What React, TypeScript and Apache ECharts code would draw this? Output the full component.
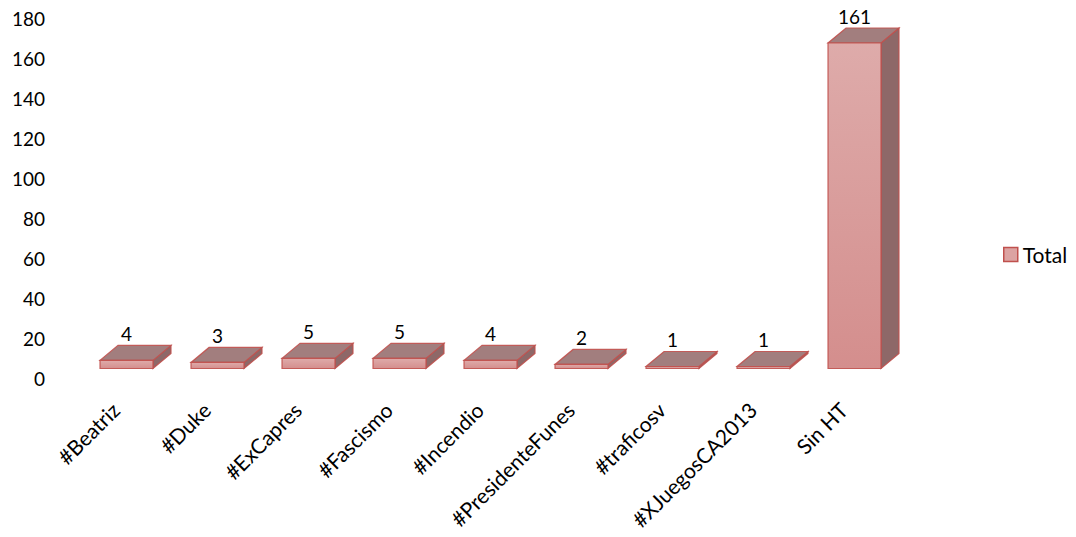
import React, { useEffect, useRef } from "react";
import * as echarts from "echarts";

const categories = [
  "#Beatriz",
  "#Duke",
  "#ExCapres",
  "#Fascismo",
  "#Incendio",
  "#PresidenteFunes",
  "#traficosv",
  "#XJuegosCA2013",
  "Sin HT",
];
const totals = [4, 3, 5, 5, 4, 2, 1, 1, 161];
const seriesName = "Total";
const yMin = 0;
const yMax = 180;
const yInterval = 20;

const FONT = "Lato, 'Open Sans', sans-serif";

export default function App() {
  const ref = useRef<HTMLDivElement>(null);
  useEffect(() => {
    if (!ref.current) return;
    const chart = echarts.init(ref.current, null, { renderer: "svg" });
    const DX = 18;
    const DY = -15;
    const option: any = {
      animation: false,
      backgroundColor: "#ffffff",
      textStyle: { fontFamily: FONT },
      legend: {
        show: true,
        left: 998,
        top: 239,
        orient: "vertical",
        icon: "rect",
        itemWidth: 14,
        itemHeight: 14,
        itemGap: 6,
        textStyle: { fontFamily: FONT, fontSize: 21, color: "#000" },
        data: [
          {
            name: seriesName,
            itemStyle: { color: "#DCA3A2", borderColor: "#C0504D", borderWidth: 1.5 },
          },
        ],
      },
      grid: [
        { left: 55, top: 18, width: 845, height: 360 },
        { left: 70, top: 18, width: 819, height: 360 },
        { left: 81, top: 4.6, width: 819, height: 363.9 },
      ],
      xAxis: [
        { type: "category", gridIndex: 0, data: categories, show: false },
        {
          type: "category",
          gridIndex: 1,
          data: categories,
          axisLine: { show: false },
          axisTick: { show: false },
          axisLabel: {
            rotate: 45,
            margin: 28,
            interval: 0,
            fontFamily: FONT,
            fontSize: 21,
            color: "#000",
          },
        },
        { type: "category", gridIndex: 2, data: categories, show: false },
      ],
      yAxis: [
        {
          type: "value",
          gridIndex: 0,
          min: yMin,
          max: yMax,
          interval: yInterval,
          axisLine: { show: false },
          axisTick: { show: false },
          splitLine: { show: false },
          axisLabel: { margin: 10, fontFamily: FONT, fontSize: 19, color: "#000" },
        },
        { type: "value", gridIndex: 1, min: yMin, max: yMax, show: false, splitLine: { show: false } },
        { type: "value", gridIndex: 2, min: yMin, max: yMax, show: false, splitLine: { show: false } },
      ],
      series: [
        {
          name: seriesName,
          type: "custom",
          xAxisIndex: 2,
          yAxisIndex: 2,
          itemStyle: { color: "#DCA3A2", borderColor: "#C0504D" },
          data: totals.map((v, i) => [i, v]),
          encode: { x: 0, y: 1 },
          renderItem: (params: any, api: any) => {
            const idx = api.value(0);
            const val = api.value(1);
            const top = api.coord([idx, val]);
            const bot = api.coord([idx, 0]);
            const w = api.size([1, 0])[0] * 0.582;
            const xl = top[0] - w / 2;
            const xr = top[0] + w / 2;
            const yt = top[1];
            const yb = bot[1];
            const stroke = "rgba(192,80,77,0.9)";
            return {
              type: "group",
              children: [
                {
                  type: "polygon",
                  shape: {
                    points: [
                      [xr, yt],
                      [xr + DX, yt + DY],
                      [xr + DX, yb + DY],
                      [xr, yb],
                    ],
                  },
                  style: { fill: "#8E6868", stroke, lineWidth: 1.2 },
                },
                {
                  type: "polygon",
                  shape: {
                    points: [
                      [xl, yt],
                      [xr, yt],
                      [xr + DX, yt + DY],
                      [xl + DX, yt + DY],
                    ],
                  },
                  style: { fill: "#A27E7E", stroke, lineWidth: 1.2 },
                },
                {
                  type: "rect",
                  shape: { x: xl, y: yt, width: w, height: Math.max(yb - yt, 0.5) },
                  style: {
                    fill: new echarts.graphic.LinearGradient(0, 0, 0, 1, [
                      { offset: 0, color: "#DEABAA" },
                      { offset: 1, color: "#D48E8D" },
                    ]),
                    stroke,
                    lineWidth: 1.2,
                  },
                },
                {
                  type: "text",
                  style: {
                    x: top[0],
                    y: yt + DY - 2,
                    text: String(val),
                    align: "center",
                    verticalAlign: "bottom",
                    fontFamily: FONT,
                    fontSize: 19,
                    fill: "#000",
                  },
                },
              ],
            };
          },
        },
      ],
    };
    chart.setOption(option);
    return () => chart.dispose();
  }, []);
  return (
    <div
      ref={ref}
      style={{ position: "fixed", left: 0, top: 0, width: 1076, height: 537, background: "#fff" }}
    />
  );
}
